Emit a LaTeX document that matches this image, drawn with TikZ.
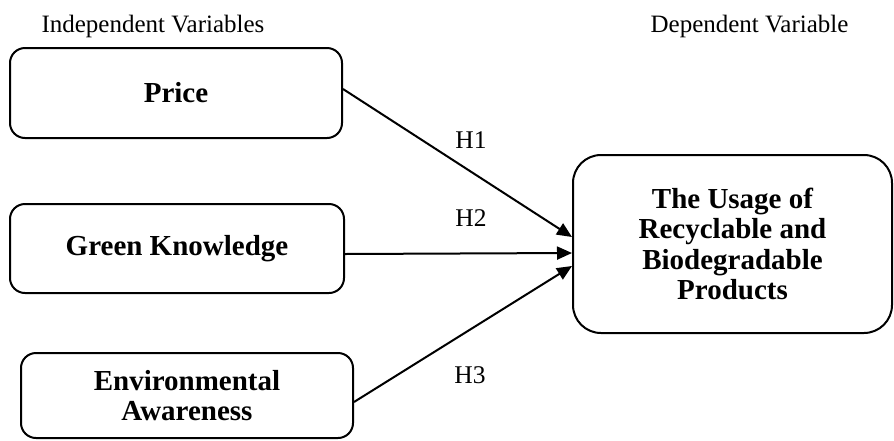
\documentclass[tikz,border=0pt]{standalone}
\usepackage{fontspec}
\setmainfont{Liberation Serif}
\usetikzlibrary{arrows.meta}
\begin{document}
\begin{tikzpicture}[x=1pt,y=-1pt,
  varbox/.style={draw,line width=2pt,rounded corners=15pt,align=center,inner sep=0pt,
    font=\fontsize{29}{30.5}\selectfont\bfseries},
  link/.style={line width=2pt,-{Triangle[length=15pt,width=13pt]}},
  hlabel/.style={font=\fontsize{25.5}{27}\selectfont},
  header/.style={font=\fontsize{25}{27}\selectfont}]
\useasboundingbox (0,0) rectangle (894,440);
\node[header,anchor=base west] (indep) at (38,32) {Independent Variables};
\node[header,anchor=base east] (dep) at (852,32) {Dependent Variable};
\node[varbox,minimum width=332pt,minimum height=90pt] (price) at (176,93) {Price};
\node[varbox,minimum width=334pt,minimum height=89pt] (green) at (177,248.5) {Green Knowledge};
\node[varbox,minimum width=332pt,minimum height=85pt] (env) at (187,395.5) {Environmental\\Awareness};
\node[varbox,rounded corners=28pt,minimum width=319pt,minimum height=178pt] (use) at (732.5,244) {The Usage of\\Recyclable and\\Biodegradable\\Products};
\draw[link] ([yshift=4pt]price.east) -- ([yshift=7pt]use.west);
\draw[link] ([yshift=-5.5pt]green.east) -- ([yshift=-9pt]use.west);
\draw[link] ([yshift=-6.5pt]env.east) -- ([yshift=-22pt]use.west);
\node[hlabel] (h1) at (471,140) {H1};
\node[hlabel] (h2) at (471,218) {H2};
\node[hlabel] (h3) at (470,375) {H3};
\end{tikzpicture}
\end{document}
